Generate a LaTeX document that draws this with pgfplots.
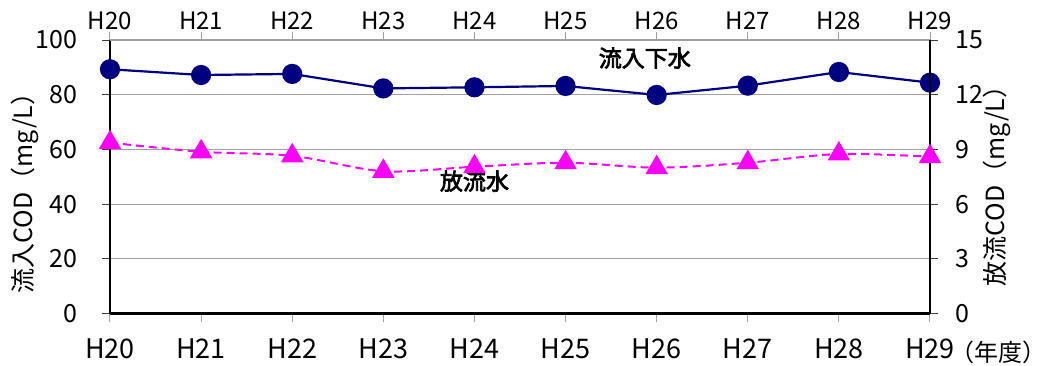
\documentclass[border=0pt]{standalone}
\usepackage{pgfplots}
\pgfplotsset{compat=1.18}
\usepackage{fontspec}
\setmainfont{Noto Sans CJK JP}
\newfontfamily\jpbold[FakeBold=3]{Noto Sans CJK JP}

\definecolor{inflow}{RGB}{0,0,128}
\definecolor{effluent}{RGB}{255,0,255}
\definecolor{frame}{RGB}{160,160,160}

% COD by fiscal year: inflow sewage (left axis) and treated effluent (right axis)
\pgfplotstableread{
idx  inflow  effluent
0    89.3    9.37
1    87.2    8.87
2    87.6    8.65
3    82.3    7.80
4    82.7    8.05
5    83.2    8.27
6    79.9    8.00
7    83.3    8.27
8    88.3    8.75
9    84.4    8.60
}\codtable

\pgfplotsset{
  codbase/.style={
    at={(0pt,0pt)}, anchor=south west,
    scale only axis, width=820pt, height=273.5pt,
    xmin=0, xmax=9,
    xtick={0,...,9},
    xticklabels={H20,H21,H22,H23,H24,H25,H26,H27,H28,H29},
    tick align=outside, major tick length=8pt,
    /pgf/number format/assume math mode=true,
    clip=false,
  }
}

\begin{document}
\begin{tikzpicture}
\begin{axis}[
  codbase,
  ymin=0, ymax=100,
  axis x line*=bottom, axis y line*=left,
  ytick={0,20,...,100},
  ymajorgrids, grid style={frame, line width=1pt},
  x axis line style={-, black, line width=2.3pt},
  y axis line style={-, black, line width=2pt},
  xtick style={frame, line width=1pt},
  ytick style={black!75, line width=1pt},
  xticklabel style={font=\fontsize{27}{27}\selectfont, yshift=-14pt},
  yticklabel style={font=\fontsize{25}{25}\selectfont, xshift=-21pt},
  ylabel={流入COD（mg/L）},
  ylabel style={font=\fontsize{25}{25}\selectfont, at={(axis description cs:-0.104,0.463)}, anchor=center},
]
\addplot[inflow, line width=2.2pt, mark=*, mark size=9pt,
  mark options={solid, fill=inflow}] table[x=idx, y=inflow] {\codtable};
\node[font=\fontsize{23}{23}\selectfont\jpbold] at (axis cs:5.87,93.4) {流入下水};
\node[font=\fontsize{24}{24}\selectfont, anchor=center, inner sep=0pt] at (axis description cs:1.083,-0.141) {（年度）};
\end{axis}

\begin{axis}[
  codbase,
  ymin=0, ymax=15,
  axis x line*=top, axis y line*=right,
  ytick={0,3,...,15},
  x axis line style={-, frame, line width=2pt},
  y axis line style={-, black, line width=2.2pt},
  xtick style={frame, line width=1pt},
  ytick style={black!75, line width=1pt},
  xticklabel style={font=\fontsize{24}{24}\selectfont, yshift=-1pt},
  yticklabel style={font=\fontsize{25}{25}\selectfont, xshift=14pt},
  ylabel={放流COD（mg/L）},
  ylabel style={font=\fontsize{25}{25}\selectfont, at={(axis description cs:1.082,0.488)}, anchor=center},
]
\addplot[effluent, line width=2pt, dash pattern=on 8pt off 5pt, smooth,
  mark=triangle*, mark size=11pt, mark options={solid, fill=effluent}]
  table[x=idx, y=effluent] {\codtable};
\node[font=\fontsize{23}{23}\selectfont\jpbold] at (axis cs:4.0,7.26) {放流水};
\end{axis}

\pgfresetboundingbox
\path[use as bounding box] (-110pt,-51.5pt) rectangle (940pt,313.5pt);
\end{tikzpicture}
\end{document}
